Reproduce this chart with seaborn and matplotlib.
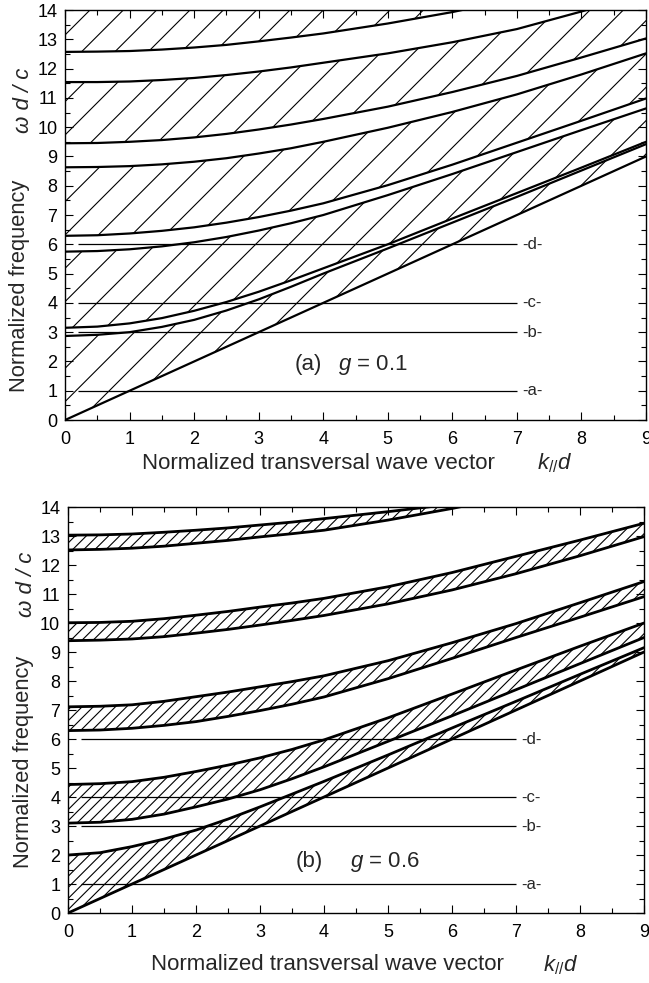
import numpy as np
import pandas as pd
import matplotlib
matplotlib.use("Agg")
import matplotlib.pyplot as plt
import seaborn as sns
from matplotlib.ticker import MultipleLocator

# normalized transversal wave vector k_par * d (denser near k = 0 where the edges bend)
k = [0, 0.5, 1, 1.5, 2, 2.5, 3, 3.5, 4, 5, 6, 7, 8, 9]

# light line omega d / c = k d
light_line = [0, 0.5, 1, 1.5, 2, 2.5, 3, 3.5, 4, 5, 6, 7, 8, 9]

# (a) g = 0.1 : band edges
a_band1_top = [2.87, 2.91, 3.0, 3.18, 3.42, 3.74, 4.12, 4.55, 5.0, 5.86, 6.74, 7.62, 8.52, 9.42]
a_band2_bot = [3.15, 3.19, 3.3, 3.48, 3.73, 4.03, 4.38, 4.77, 5.18, 6.0, 6.88, 7.75, 8.62, 9.5]
a_band2_top = [5.75, 5.77, 5.83, 5.93, 6.07, 6.25, 6.47, 6.72, 7.0, 7.68, 8.4, 9.15, 9.9, 10.64]
a_band3_bot = [6.29, 6.31, 6.37, 6.46, 6.58, 6.74, 6.93, 7.15, 7.4, 8.02, 8.72, 9.47, 10.22, 10.98]
a_band3_top = [8.63, 8.64, 8.67, 8.73, 8.82, 8.94, 9.1, 9.28, 9.5, 9.98, 10.52, 11.12, 11.8, 12.52]
a_band4_bot = [9.45, 9.46, 9.5, 9.56, 9.65, 9.77, 9.92, 10.09, 10.28, 10.7, 11.2, 11.75, 12.38, 13.03]
a_band4_top = [11.54, 11.54, 11.56, 11.61, 11.68, 11.78, 11.9, 12.04, 12.2, 12.52, 12.9, 13.35, 13.95, 14.6]
a_band5_bot = [12.57, 12.58, 12.6, 12.65, 12.72, 12.81, 12.93, 13.06, 13.2, 13.54, 13.93, 14.4, 14.9, 15.4]
a_band5_top = [15.5, 15.5, 15.5, 15.5, 15.5, 15.5, 15.5, 15.5, 15.5, 15.5, 15.5, 15.5, 15.5, 15.5]

# (b) g = 0.6
b_band1_top = [2.0, 2.08, 2.29, 2.55, 2.86, 3.24, 3.66, 4.1, 4.54, 5.45, 6.38, 7.3, 8.23, 9.15]
b_band2_bot = [3.1, 3.13, 3.23, 3.41, 3.66, 3.93, 4.25, 4.63, 5.04, 5.92, 6.8, 7.7, 8.6, 9.5]
b_band2_top = [4.43, 4.46, 4.53, 4.68, 4.88, 5.1, 5.35, 5.64, 5.97, 6.73, 7.55, 8.38, 9.2, 10.0]
b_band3_bot = [6.29, 6.31, 6.37, 6.47, 6.6, 6.78, 6.98, 7.2, 7.45, 8.08, 8.78, 9.5, 10.2, 10.91]
b_band3_top = [7.11, 7.13, 7.18, 7.3, 7.46, 7.62, 7.8, 7.98, 8.18, 8.7, 9.32, 9.98, 10.7, 11.43]
b_band4_bot = [9.39, 9.41, 9.45, 9.53, 9.65, 9.78, 9.93, 10.09, 10.26, 10.66, 11.14, 11.7, 12.32, 12.98]
b_band4_top = [10.01, 10.02, 10.06, 10.15, 10.27, 10.4, 10.55, 10.69, 10.85, 11.25, 11.74, 12.3, 12.86, 13.44]
b_band5_bot = [12.52, 12.54, 12.58, 12.65, 12.75, 12.85, 12.97, 13.08, 13.2, 13.55, 13.95, 14.4, 14.9, 15.4]
b_band5_top = [13.03, 13.04, 13.07, 13.13, 13.2, 13.28, 13.38, 13.48, 13.6, 13.84, 14.1, 14.5, 14.95, 15.5]

# marked frequencies
line_levels = [1, 3, 4, 6]
line_labels = ["-a-", "-b-", "-c-", "-d-"]

bands_a = [(light_line, a_band1_top), (a_band2_bot, a_band2_top),
           (a_band3_bot, a_band3_top), (a_band4_bot, a_band4_top),
           (a_band5_bot, a_band5_top)]
bands_b = [(light_line, b_band1_top), (b_band2_bot, b_band2_top),
           (b_band3_bot, b_band3_top), (b_band4_bot, b_band4_top),
           (b_band5_bot, b_band5_top)]

sns.set_theme(style="ticks")
plt.rcParams["font.family"] = ["Liberation Sans", "DejaVu Sans"]
plt.rcParams["mathtext.fontset"] = "custom"
plt.rcParams["mathtext.rm"] = "Liberation Sans"
plt.rcParams["mathtext.it"] = "Liberation Sans:italic"
plt.rcParams["hatch.linewidth"] = 0.4

fig = plt.figure(figsize=(3.245, 4.915), dpi=200)
ax1 = fig.add_axes([0.1002, 0.5727, 0.8952, 0.4171])
ax2 = fig.add_axes([0.1048, 0.0712, 0.8875, 0.4130])

panels = [
    (ax1, bands_a, "//", 0.8, "(a)", "$g$ = 0.1", 4.23, 1.88, 0.327, 0.78, 0.437, -0.105, 0.843),
    (ax2, bands_b, "//////", 1.0, "(b)", "$g$ = 0.6", 4.4, 1.77, 0.372, 0.81, 0.45, -0.128, 0.856),
]

for ax, bands, hatch, lw, tag, gtxt, gx, ty, ylab_y, wdc_y, xlab_x, xlab_y, kd_x in panels:
    # hatched allowed bands
    for low, high in bands:
        ax.fill_between(k, low, high, facecolor="none", edgecolor="black",
                        hatch=hatch, linewidth=0, zorder=1)
        for edge in (low, high):
            sns.lineplot(x=k, y=edge, ax=ax, color="black", linewidth=lw,
                         estimator=None, sort=False, zorder=3)

    ax.hlines(line_levels, 0.2, 7.0, colors="black", linewidth=0.45, zorder=2)
    for lev, lab in zip(line_levels, line_labels):
        ax.text(7.08, lev, lab, fontsize=6, ha="left", va="center")

    ax.text(3.55, ty, tag, fontsize=8, ha="left", va="center")
    ax.text(gx, ty, gtxt, fontsize=8, ha="left", va="center")

    ax.set_xlim(0, 9)
    ax.set_ylim(0, 14)
    ax.xaxis.set_major_locator(MultipleLocator(1))
    ax.xaxis.set_minor_locator(MultipleLocator(0.5))
    ax.yaxis.set_major_locator(MultipleLocator(1))
    ax.yaxis.set_minor_locator(MultipleLocator(0.5))
    ax.tick_params(which="both", direction="in", top=True, right=True,
                   width=0.4, labelsize=6.5, colors="black")
    ax.tick_params(which="major", length=2.9)
    ax.tick_params(which="minor", length=1.8)
    ax.tick_params(axis="y", pad=2.8)
    ax.tick_params(axis="x", pad=3.8)
    for sp in ax.spines.values():
        sp.set_linewidth(0.5)
        sp.set_color("black")
    ax.set_xlabel("")
    ax.set_ylabel("")

    ax.text(-0.078, ylab_y, "Normalized frequency", rotation=90, fontsize=7.9,
            ha="center", va="center", transform=ax.transAxes)
    ax.text(-0.072, wdc_y, "ω d / c", rotation=90, fontsize=8, style="italic",
            ha="center", va="center", transform=ax.transAxes)
    ax.text(xlab_x, xlab_y, "Normalized transversal wave vector", fontsize=8,
            ha="center", va="center", transform=ax.transAxes)
    ax.text(kd_x, xlab_y, r"$k_{//}d$", fontsize=8,
            ha="center", va="center", transform=ax.transAxes)

fig.savefig("out.png", dpi=200)
